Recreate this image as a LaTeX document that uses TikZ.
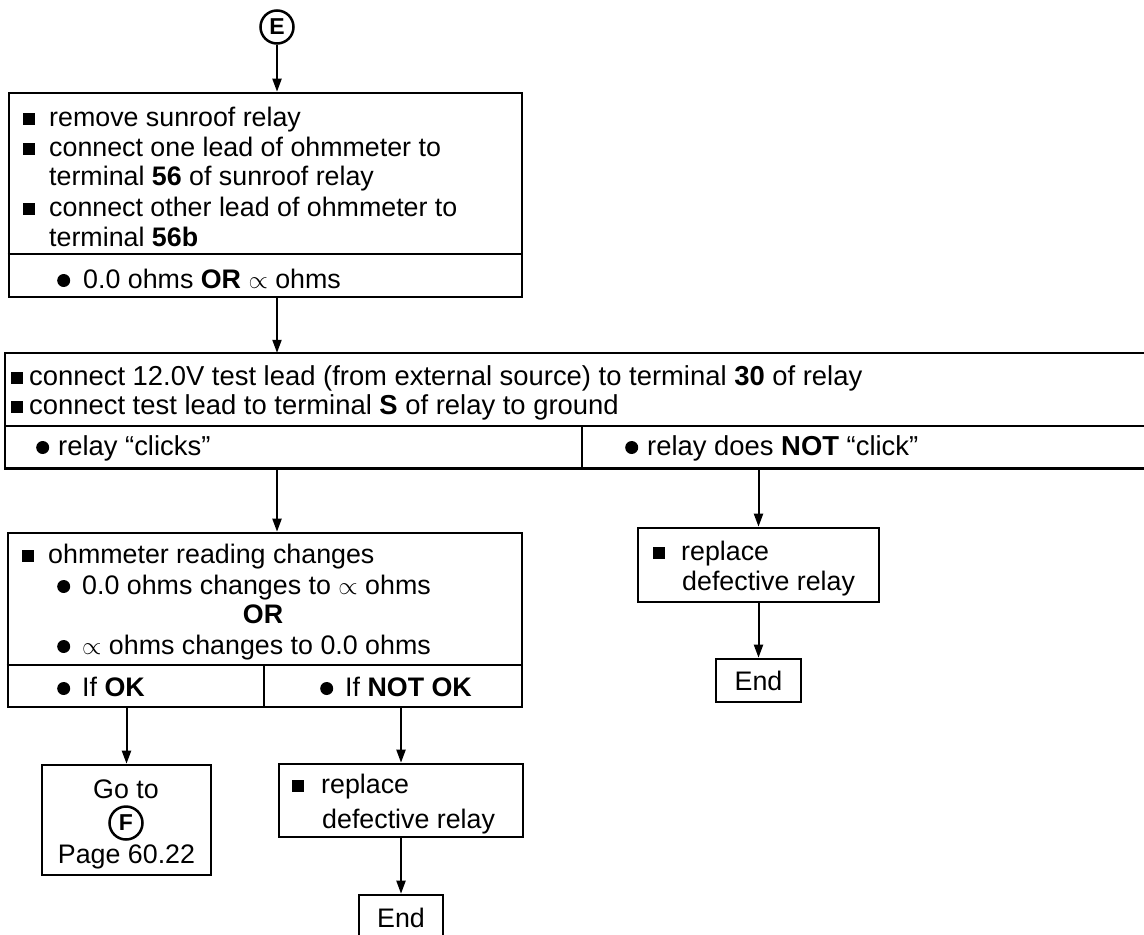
\documentclass[tikz,border=0pt]{standalone}
\usepackage{fontspec}
\setmainfont{Liberation Sans}
\usetikzlibrary{arrows.meta}
\newcommand{\sqm}[1][14pt]{\rule[1pt]{12pt}{12pt}\hspace{#1}}
\newcommand{\dotm}[1][13pt]{\tikz[baseline=0pt]\fill (6.5pt,7.5pt) circle (6.5pt);\hspace{#1}}
\begin{document}
\begin{tikzpicture}[x=1pt,y=-1pt,
  font=\fontsize{26.8}{30}\selectfont,
  box/.style={draw, line width=2.6pt, inner sep=0pt, rectangle},
  openbox/.style={inner sep=0pt, rectangle},
  edge/.style={line width=2.6pt},
  conn/.style={line width=2pt, -{Triangle[length=13pt,width=9pt]}},
  txt/.style={anchor=base west, inner sep=0pt},
  wtxt/.style={anchor=base west, inner sep=0pt, font=\fontsize{27.4}{30}\selectfont},
  ctxt/.style={anchor=base, inner sep=0pt},
  circ/.style={draw, circle, line width=2.5pt, minimum size=33pt, inner sep=0pt,
    font=\fontsize{23}{23}\selectfont\bfseries}]
\useasboundingbox (0,0) rectangle (1144,935);

% connector E
\node[circ] (e) at (277,27) {E};

% box 1
\node[box, minimum width=513pt, minimum height=204pt] (b1) at (265.5,195) {};
\draw[edge] (b1.west |- 0,254) -- (b1.east |- 0,254);
\node[txt] (t11) at (23,126) {\sqm[14pt]remove sunroof relay};
\node[txt] (t12) at (23,156) {\sqm[14pt]connect one lead of ohmmeter to};
\node[txt] (t13) at (49,185) {terminal \textbf{56} of sunroof relay};
\node[txt] (t14) at (23,216) {\sqm[14pt]connect other lead of ohmmeter to};
\node[txt] (t15) at (49,246) {terminal \textbf{56b}};
\node[txt] (t16) at (57,288) {\dotm[13pt]0.0 ohms \textbf{OR} $\propto$ ohms};

% box 2 (open to the right)
\node[openbox, minimum width=1139pt, minimum height=115pt] (b2) at (574.5,410.5) {};
\draw[edge] (b2.north east) -- (b2.north west) -- (b2.south west) -- (b2.south east);
\draw[edge] (b2.west |- 0,426) -- (b2.east |- 0,426);
\draw[edge] (582,426) -- (582,468);
\node[wtxt] (t21) at (11,385) {\sqm[6pt]connect 12.0V test lead (from external source) to terminal \textbf{30} of relay};
\node[wtxt] (t22) at (11,414) {\sqm[6pt]connect test lead to terminal \textbf{S} of relay to ground};
\node[wtxt] (t23) at (36,455) {\dotm[9pt]relay “clicks”};
\node[wtxt] (t24) at (625,455) {\dotm[9pt]relay does \textbf{NOT} “click”};

% box 3
\node[box, minimum width=514pt, minimum height=174pt] (b3) at (265,620) {};
\draw[edge] (b3.west |- 0,665) -- (b3.east |- 0,665);
\draw[edge] (264,665) -- (264,707);
\node[txt] (t31) at (22,563) {\sqm[14pt]ohmmeter reading changes};
\node[txt] (t32) at (57,594) {\dotm[12pt]0.0 ohms changes to $\propto$ ohms};
\node[ctxt] (t33) at (263,623) {\textbf{OR}};
\node[txt] (t34) at (57,654) {\dotm[12pt]$\propto$ ohms changes to 0.0 ohms};
\node[txt] (t35) at (57,696) {\dotm[12pt]If \textbf{OK}};
\node[txt] (t36) at (320,696) {\dotm[12pt]If \textbf{NOT OK}};

% go to box
\node[box, minimum width=169pt, minimum height=110pt] (go) at (126.5,820) {};
\node[ctxt] (g1) at (126,798) {Go to};
\node[circ] (f) at (126,823) {F};
\node[ctxt] (g2) at (126.5,863) {Page 60.22};

% replace (left)
\node[box, minimum width=244pt, minimum height=73pt] (rl) at (401,800.5) {};
\node[txt] (r1) at (292,793) {\sqm[17pt]replace};
\node[txt] (r2) at (322,828) {defective relay};
\node[box, minimum width=84pt, minimum height=43pt] (el) at (401,916.5) {};
\node[ctxt] (el1) at (401,927) {End};

% replace (right)
\node[box, minimum width=241pt, minimum height=74pt] (rr) at (758.5,565) {};
\node[txt] (r3) at (653,560) {\sqm[16pt]replace};
\node[txt] (r4) at (682,590) {defective relay};
\node[box, minimum width=85pt, minimum height=43pt] (er) at (758.5,680.5) {};
\node[ctxt] (er1) at (758.5,690) {End};

% connectors
\draw[conn] (e.south) -- (e.south |- b1.north);
\draw[conn] (b1.south -| e.south) -- (b2.north -| e.south);
\draw[conn] (b2.south -| e.south) -- (b3.north -| e.south);
\draw[conn] (b2.south -| rr.north) -- (rr.north);
\draw[conn] (rr.south) -- (er.north);
\draw[conn] (b3.south -| go.north) -- (go.north);
\draw[conn] (b3.south -| rl.north) -- (rl.north);
\draw[conn] (rl.south) -- (el.north);
\end{tikzpicture}
\end{document}
